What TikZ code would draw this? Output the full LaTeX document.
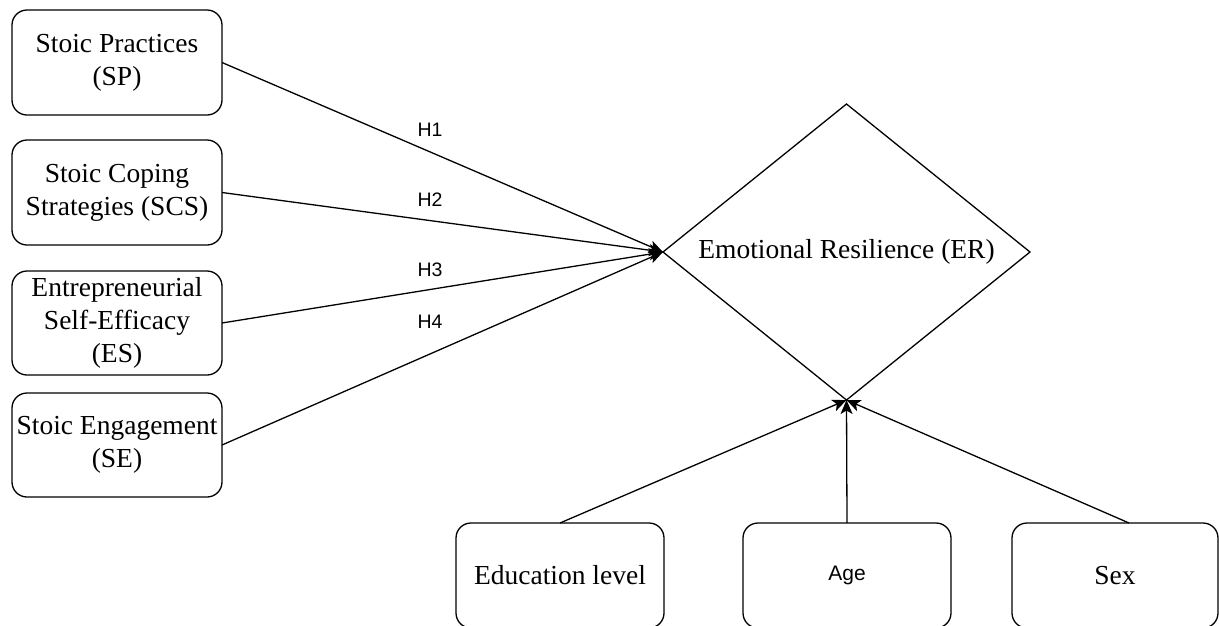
\documentclass[tikz,border=0pt]{standalone}
\usepackage{fontspec}
\setmainfont{Liberation Serif}
\newfontfamily\hsans{Liberation Sans}
\usetikzlibrary{arrows.meta,shapes.geometric}
\tikzset{
  box/.style={draw, rounded corners=15pt, line width=1.3pt, minimum width=210pt,
    minimum height=105pt, inner sep=0pt, outer sep=0pt, align=center,
    font=\fontsize{27.5}{33}\selectfont},
  link/.style={line width=1.3pt, -{Stealth[length=14pt,width=12pt,inset=3.5pt]}},
  hlabel/.style={font=\hsans\fontsize{19.5}{22}\selectfont, inner sep=0pt},
  sanslabel/.style={font=\hsans\fontsize{21}{25}\selectfont}
}
\begin{document}
\begin{tikzpicture}[x=1pt,y=-1pt]
\useasboundingbox (0,0) rectangle (1219,625);
\node[box] (sp)  at (117,62.5) {Stoic Practices\\(SP)};
\node[box] (scs) at (117,192.5) {Stoic Coping\\Strategies (SCS)};
\node[box, minimum height=104pt] (es) at (117,323) {Entrepreneurial\\Self-Efficacy\\(ES)};
\node[box, minimum height=104pt] (se) at (117,445) {Stoic Engagement\\(SE)};

\node[draw, diamond, aspect=1.24, line width=1.3pt, minimum width=367pt, minimum height=296pt,
      inner sep=0pt, outer sep=0pt, font=\fontsize{27.5}{33}\selectfont] (er) at (846.5,252) {Emotional Resilience (ER)};

\node[box, minimum width=208pt] (edu) at (560,575.5) {Education level};
\node[box, minimum width=208pt, sanslabel] (age) at (847,575.5) {Age};
\node[box, minimum width=206pt] (sex) at (1115,575.5) {Sex};

\draw[link] (sp.east) -- (er.west);
\draw[link] (scs.east) -- (er.west);
\draw[link] (es.east) -- (er.west);
\draw[link] (se.east) -- (er.west);

\draw[link] (edu.north) -- (er.south);
\draw[link] (age.north) -- (er.south);
\draw[link] ([xshift=14pt]sex.north) -- (er.south);

\node[hlabel] (h1) at (430,130) {H1};
\node[hlabel] (h2) at (430,200) {H2};
\node[hlabel] (h3) at (430,270) {H3};
\node[hlabel] (h4) at (430,322) {H4};
\end{tikzpicture}
\end{document}
